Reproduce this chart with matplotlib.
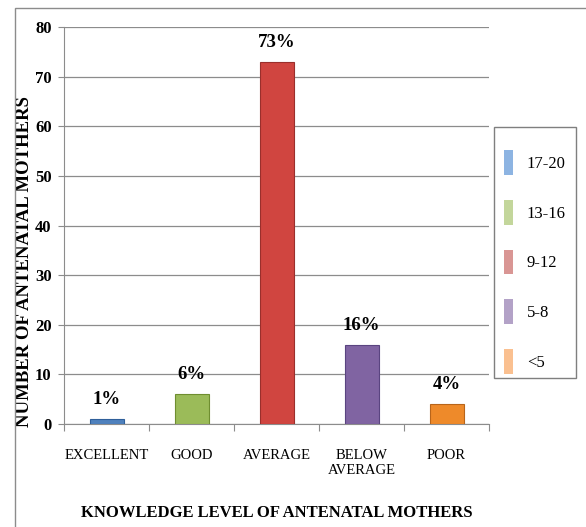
import numpy as np
import matplotlib
matplotlib.use("Agg")
import matplotlib.pyplot as plt
from matplotlib.patches import Rectangle, Patch

# ============================================
# Data
# ============================================

categories = ["EXCELLENT", "GOOD", "AVERAGE", "BELOW\nAVERAGE", "POOR"]
values = [1, 6, 73, 16, 4]
pct_labels = ["1%", "6%", "73%", "16%", "4%"]
score_ranges = ["17-20", "13-16", "9-12", "5-8", "<5"]

bar_colors = ["#4F81BD", "#9BBB59", "#D04540", "#8064A2", "#EE8A2A"]
edge_colors = ["#2F5F9A", "#6F8E30", "#9A2F2C", "#5A4480", "#B8651A"]
legend_colors = ["#8DB4E2", "#C3D69B", "#D99694", "#B3A2C7", "#FAC090"]

plt.rcParams["font.family"] = ["Liberation Serif", "DejaVu Serif"]

fig = plt.figure(figsize=(5.86, 5.27), dpi=100)
ax = fig.add_axes([64 / 586, 1 - 424 / 527, 425 / 586, 397 / 527])

# outer frame
fig.patches.append(Rectangle((15 / 586, -0.05), 1.0, 1 - 8 / 527 + 0.05,
                             transform=fig.transFigure, fill=False,
                             edgecolor="#8C8C8C", linewidth=1.0))

x = np.arange(len(categories))
ax.bar(x, values, width=0.4, color=bar_colors, edgecolor=edge_colors,
       linewidth=0.8, zorder=3)

for xi, v, lab in zip(x, values, pct_labels):
    ax.text(xi, v + 2.2, lab, ha="center", va="bottom",
            fontsize=13.5, fontweight="bold", zorder=4)

ax.set_xlim(-0.5, len(categories) - 0.5)
ax.set_ylim(0, 80)
ax.set_yticks(range(0, 81, 10))
ax.yaxis.grid(True, color="#8C8C8C", linewidth=0.9, zorder=0)
ax.set_axisbelow(True)

for lbl in ax.get_yticklabels():
    lbl.set_fontweight("bold")
ax.tick_params(axis="y", labelsize=12, length=4, color="#8C8C8C", pad=5)

ax.set_xticks(np.arange(-0.5, len(categories), 1.0))
ax.set_xticklabels([])
ax.tick_params(axis="x", length=5, color="#8C8C8C", direction="out")
ax.set_xticks(x, minor=True)
ax.set_xticklabels(categories, minor=True, fontsize=10.5)
ax.tick_params(axis="x", which="minor", length=0, pad=18)

for side in ["top", "right"]:
    ax.spines[side].set_visible(False)
ax.spines["left"].set_color("#8C8C8C")
ax.spines["bottom"].set_color("#8C8C8C")

ax.set_ylabel("NUMBER OF ANTENATAL MOTHERS", fontsize=13.5,
              fontweight="bold")
ax.yaxis.set_label_coords(-0.073, 0.41)
ax.set_xlabel("KNOWLEDGE LEVEL OF ANTENATAL MOTHERS", fontsize=12,
              fontweight="bold")
ax.xaxis.set_label_coords(0.5, -0.205)

# legend box drawn separately
fig.patches.append(Rectangle((494 / 586, 1 - 378 / 527), 82 / 586, 251 / 527,
                             transform=fig.transFigure, fill=False,
                             edgecolor="#7F7F7F", linewidth=1.0))

handles = [Patch(facecolor=c, edgecolor="none") for c in legend_colors]
leg = fig.legend(handles, score_ranges, loc="center",
                 bbox_to_anchor=(535 / 586, 1 - 262 / 527),
                 borderaxespad=0, fontsize=12, handlelength=0.55,
                 handleheight=1.9, labelspacing=1.5, borderpad=0.0,
                 handletextpad=0.8, frameon=False)

fig.savefig("out.png", dpi=100)
